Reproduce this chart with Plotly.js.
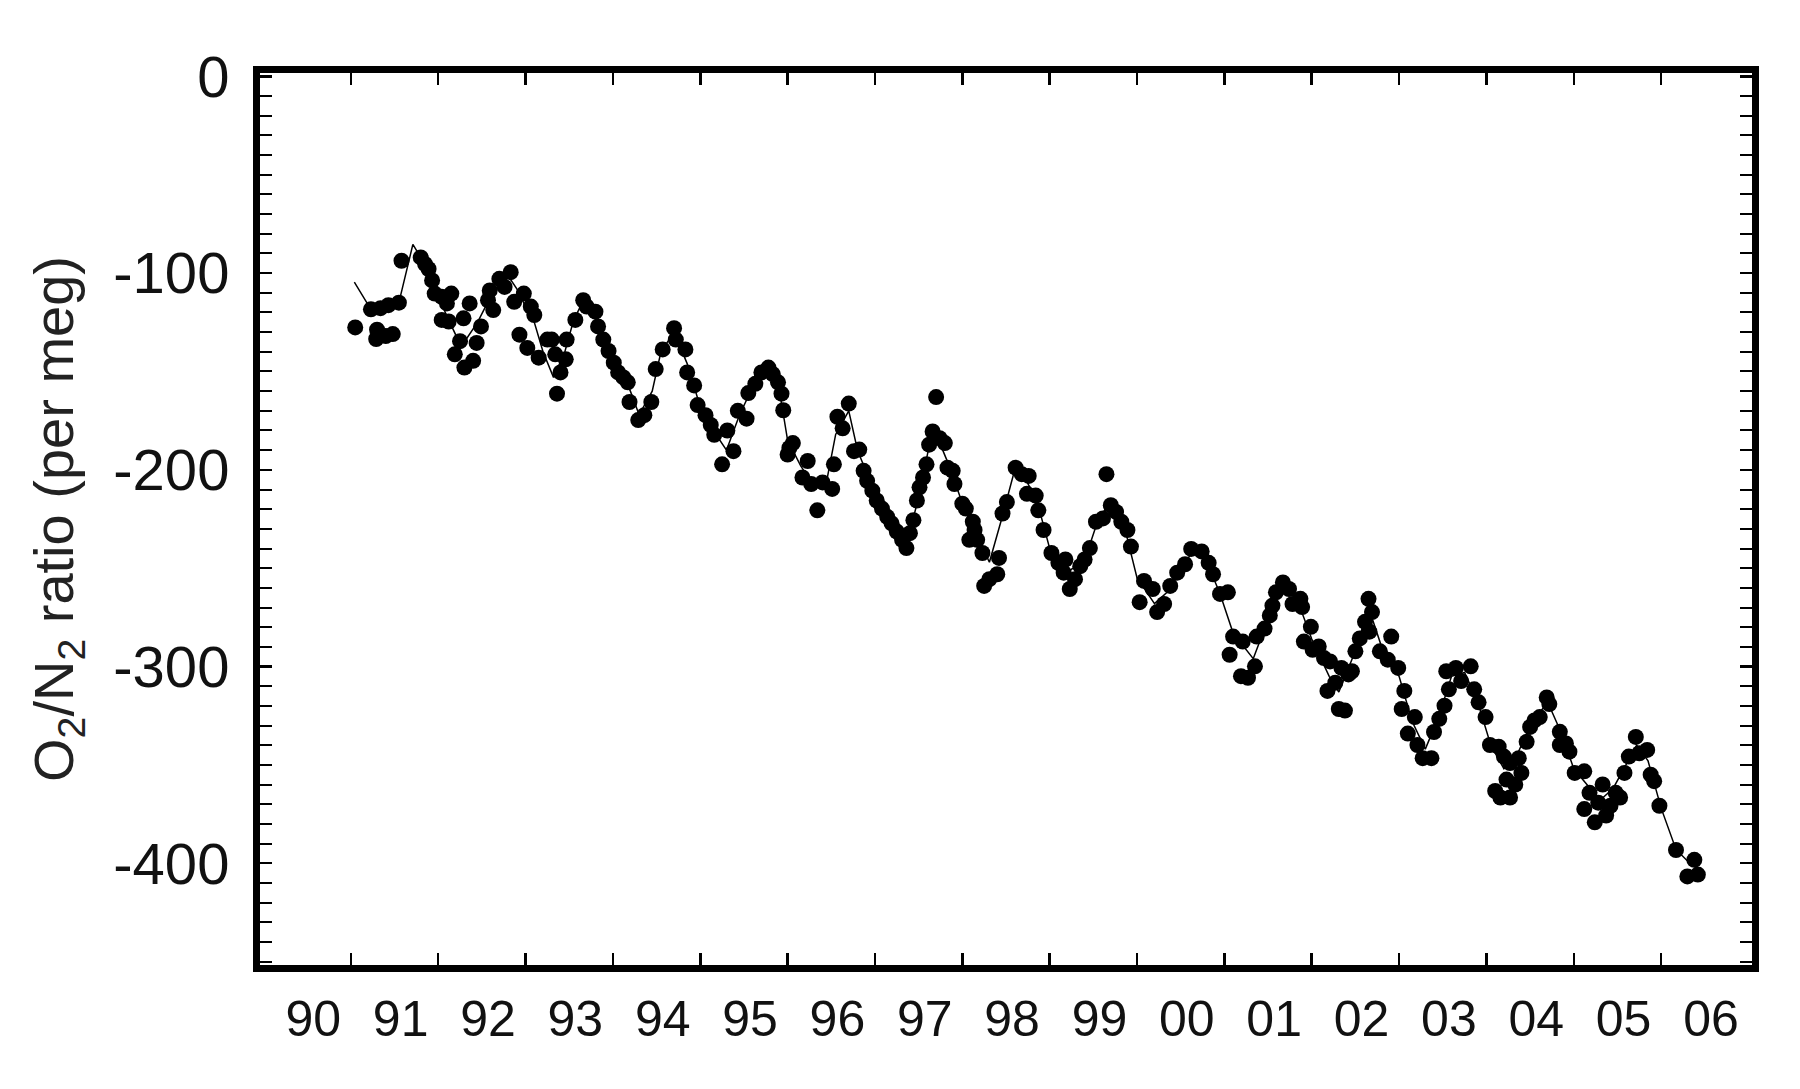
<!DOCTYPE html>
<html>
<head>
<meta charset="utf-8">
<script src="https://cdn.plot.ly/plotly-3.0.1.min.js"></script>
<style>html,body{margin:0;padding:0;background:#fff;}#chart{width:1800px;height:1089px;}</style>
</head>
<body>
<div id="chart"></div>
<script>
// Decimal year of each measured point
const dotYear = [
1991.05,1991.23,1991.34,1991.43,1991.55,1991.30,1991.29,1991.40,1991.48,1991.58,
1991.80,1991.85,1991.89,1991.93,1991.96,1992.04,1992.15,1992.10,1992.04,1992.12,
1992.29,1992.19,1992.25,1992.36,1992.30,1992.40,1992.44,1992.49,1992.57,1992.59,
1992.63,1992.70,1992.83,1992.76,1992.87,1992.98,1993.06,1993.10,1992.93,1993.02,
1993.15,1993.25,1993.34,1993.30,1993.40,1993.36,1993.46,1993.47,1993.57,1993.66,
1993.70,1993.80,1993.83,1993.89,1993.95,1994.01,1994.06,1994.12,1994.17,1994.19,
1994.29,1994.36,1994.44,1994.49,1994.57,1994.70,1994.72,1994.83,1994.85,1994.93,
1994.97,1995.06,1995.12,1995.16,1995.25,1995.31,1995.38,1995.43,1995.53,1995.55,
1995.63,1995.70,1995.78,1995.83,1995.89,1995.93,1995.95,1996.00,1996.02,1996.06,
1996.17,1996.23,1996.27,1996.34,1996.40,1996.51,1996.53,1996.57,1996.63,1996.70,
1996.76,1996.82,1996.87,1996.91,1996.97,1997.02,1997.08,1997.14,1997.19,1997.25,
1997.31,1997.36,1997.40,1997.44,1997.48,1997.51,1997.55,1997.59,1997.62,1997.66,
1997.70,1997.74,1997.80,1997.83,1997.89,1997.91,1998.00,1998.04,1998.12,1998.14,
1998.08,1998.17,1998.23,1998.25,1998.31,1998.40,1998.42,1998.46,1998.51,1998.61,
1998.68,1998.76,1998.74,1998.84,1998.87,1998.93,1999.02,1999.10,1999.18,1999.16,
1999.23,1999.29,1999.35,1999.40,1999.46,1999.53,1999.61,1999.65,1999.70,1999.76,
1999.82,1999.89,1999.93,2000.03,2000.08,2000.18,2000.23,2000.31,2000.38,2000.46,
2000.55,2000.62,2000.74,2000.82,2000.87,2000.95,2001.04,2001.10,2001.06,2001.21,
2001.27,2001.19,2001.35,2001.37,2001.46,2001.52,2001.55,2001.59,2001.67,2001.74,
2001.78,2001.87,2001.89,2001.99,2001.91,2002.01,2002.08,2002.14,2002.21,2002.18,
2002.27,2002.31,2002.38,2002.34,2002.42,2002.46,2002.50,2002.55,2002.61,2002.65,
2002.69,2002.66,2002.91,2002.78,2002.87,2002.99,2003.06,2003.03,2003.18,2003.10,
2003.21,2003.27,2003.37,2003.40,2003.46,2003.52,2003.57,2003.54,2003.65,2003.71,
2003.82,2003.86,2003.91,2003.99,2004.04,2004.14,2004.20,2004.27,2004.10,2004.16,
2004.27,2004.23,2004.33,2004.40,2004.37,2004.46,2004.50,2004.55,2004.61,2004.69,
2004.72,2004.84,2004.84,2004.91,2004.95,2005.01,2005.12,2005.18,2005.12,2005.33,
2005.28,2005.24,2005.37,2005.42,2005.48,2005.53,2005.58,2005.63,2005.71,2005.75,
2005.84,2005.88,2005.92,2005.98,2006.17,2006.38,2006.30,2006.42
];
// O2/N2 ratio of each measured point (per meg)
const dotValue = [
-127.6,-118.4,-117.8,-116.3,-115.0,-128.8,-133.5,-132.0,-131.0,-93.7,
-92.0,-95.4,-97.9,-103.7,-110.4,-112.0,-110.4,-115.4,-123.8,-124.6,
-123.0,-141.3,-134.6,-115.4,-148.0,-144.6,-135.5,-127.1,-113.8,-108.8,
-118.8,-102.9,-99.5,-107.0,-114.6,-110.4,-117.0,-121.3,-131.3,-138.0,
-143.0,-133.8,-141.3,-133.8,-150.5,-161.3,-143.8,-133.8,-123.8,-113.8,
-117.0,-119.6,-127.1,-133.8,-139.6,-145.5,-150.5,-153.0,-155.5,-165.5,
-174.7,-172.2,-165.5,-148.8,-138.8,-128.0,-133.8,-138.8,-150.5,-157.1,
-167.1,-172.2,-177.2,-182.2,-197.2,-180.0,-190.5,-170.0,-174.0,-161.0,
-156.3,-150.5,-148.0,-151.3,-155.5,-161.3,-169.7,-192.2,-188.9,-186.4,
-203.9,-195.5,-207.2,-220.6,-206.4,-209.7,-197.2,-173.0,-178.9,-166.3,
-190.5,-189.7,-200.5,-205.6,-210.6,-215.6,-219.7,-223.9,-227.2,-231.4,
-235.6,-239.8,-232.2,-225.6,-215.6,-208.9,-203.9,-197.2,-187.2,-180.5,
-163.0,-183.9,-186.4,-198.9,-200.5,-207.2,-217.2,-219.7,-226.4,-230.6,
-235.6,-235.6,-242.3,-259.0,-255.6,-253.1,-244.8,-222.2,-216.4,-198.9,
-202.2,-203.1,-212.2,-213.1,-220.6,-230.6,-242.3,-247.3,-245.6,-252.3,
-260.6,-255.6,-249.0,-245.6,-239.8,-226.4,-224.7,-202.2,-218.0,-221.4,
-226.4,-230.6,-239.0,-267.3,-256.5,-260.6,-272.3,-268.2,-259.0,-252.3,
-248.0,-240.2,-241.5,-247.3,-253.1,-263.1,-262.3,-284.8,-294.0,-287.3,
-305.7,-304.9,-299.9,-284.8,-280.7,-274.0,-269.0,-262.3,-257.3,-260.6,
-268.2,-265.6,-269.8,-279.8,-287.3,-291.5,-289.8,-295.7,-297.4,-312.4,
-308.2,-321.6,-322.4,-300.7,-304.0,-302.4,-292.3,-285.7,-277.3,-265.6,
-272.3,-282.3,-284.8,-292.3,-296.5,-300.7,-312.4,-321.6,-325.7,-334.1,
-339.9,-346.6,-346.6,-333.3,-326.6,-319.9,-311.6,-302.4,-300.7,-307.4,
-299.9,-311.6,-318.2,-325.7,-339.9,-340.8,-345.8,-349.1,-363.3,-366.6,
-366.6,-357.5,-360.0,-354.1,-346.6,-338.3,-330.7,-327.4,-325.7,-315.7,
-319.1,-333.2,-339.9,-339.1,-343.3,-354.1,-353.3,-364.2,-372.5,-360.0,
-369.2,-379.2,-375.8,-370.8,-364.2,-366.6,-354.1,-345.8,-335.8,-344.1,
-342.4,-355.0,-358.3,-370.8,-393.3,-398.3,-406.7,-405.8
];
// Thin connecting curve
const lineYear = [
1991.04,1991.21,1991.30,1991.45,1991.55,1991.71,1991.80,1991.90,1992.00,1992.10,
1992.25,1992.33,1992.45,1992.60,1992.78,1992.90,1993.00,1993.10,1993.20,1993.32,
1993.45,1993.55,1993.66,1993.80,1993.95,1994.10,1994.20,1994.30,1994.45,1994.55,
1994.70,1994.85,1995.00,1995.15,1995.30,1995.45,1995.60,1995.78,1995.90,1996.00,
1996.15,1996.30,1996.45,1996.55,1996.70,1996.80,1997.00,1997.20,1997.36,1997.50,
1997.62,1997.72,1997.85,1998.00,1998.15,1998.31,1998.45,1998.60,1998.70,1998.85,
1999.00,1999.20,1999.40,1999.55,1999.65,1999.85,2000.00,2000.20,2000.35,2000.50,
2000.65,2000.80,2000.95,2001.10,2001.33,2001.45,2001.60,2001.70,2001.85,2002.00,
2002.20,2002.31,2002.50,2002.65,2002.80,2003.00,2003.15,2003.30,2003.45,2003.60,
2003.75,2003.90,2004.05,2004.20,2004.35,2004.50,2004.70,2004.85,2005.00,2005.15,
2005.30,2005.45,2005.60,2005.72,2005.85,2006.00,2006.17,2006.35
];
const lineValue = [
-104.6,-117,-121,-118,-115,-85.4,-92,-100,-111,-122,
-136,-133,-125,-112,-100,-108,-117,-125,-140,-153,
-140,-124,-114,-120,-138,-151,-160,-172,-160,-140,
-130,-146,-168,-180,-190,-172,-158,-148,-158,-185,
-198,-208,-205,-182,-170,-190,-212,-228,-238,-214,
-188,-184,-198,-217,-232,-247,-225,-200,-203,-215,
-240,-252,-246,-226,-219,-228,-255,-268,-262,-250,
-241,-247,-263,-283,-296,-282,-263,-258,-268,-286,
-305,-313,-292,-270,-290,-305,-328,-342,-326,-305,
-303,-318,-340,-352,-345,-330,-318,-333,-352,-360,
-368,-362,-350,-340,-348,-372,-393,-401
];
const yearTicks = [1991,1992,1993,1994,1995,1996,1997,1998,1999,2000,2001,2002,2003,2004,2005,2006];
const yearLabelPos = [1990.57,1991.57,1992.57,1993.57,1994.57,1995.57,1996.57,1997.57,1998.57,1999.57,2000.57,2001.57,2002.57,2003.57,2004.57,2005.57,2006.57];
const yearLabels = ['90','91','92','93','94','95','96','97','98','99','00','01','02','03','04','05','06'];
const yTickVals = [0,-100,-200,-300,-400];
const yTickText = ['0','-100','-200','-300','-400'];

const FONT = 'Liberation Sans, Arial, Helvetica, sans-serif';
const traces = [
  {x: lineYear, y: lineValue, type: 'scatter', mode: 'lines',
   line: {color: '#000', width: 1.5}, hoverinfo: 'skip', showlegend: false},
  {x: dotYear, y: dotValue, type: 'scatter', mode: 'markers',
   marker: {color: '#000', size: 16}, showlegend: false},
  {x: [yearLabelPos[0]], y: [null], xaxis: 'x2', yaxis: 'y', type: 'scatter', mode: 'markers', showlegend: false, hoverinfo: 'skip'}
];
const xr = [1989.96, 2007.04];
const layout = {
  width: 1800, height: 1089,
  paper_bgcolor: '#fff', plot_bgcolor: '#fff',
  margin: {l: 260, r: 48, t: 73, b: 124},
  showlegend: false,
  font: {family: FONT, color: '#000'},
  xaxis: {
    range: xr, tickmode: 'array', tickvals: yearTicks, showticklabels: false,
    ticks: 'inside', ticklen: 12, tickwidth: 2.5, tickcolor: '#000',
    showline: true, linewidth: 7, linecolor: '#000', mirror: 'allticks',
    showgrid: false, zeroline: false
  },
  xaxis2: {
    overlaying: 'x', anchor: 'y', side: 'bottom', range: xr,
    tickmode: 'array', tickvals: yearLabelPos, ticktext: yearLabels,
    ticks: '', showline: false, showgrid: false, zeroline: false,
    ticklabelstandoff: 20,
    tickfont: {family: FONT, size: 50, color: '#111'}
  },
  yaxis: {
    range: [-451.75, 1.75], tickmode: 'array', tickvals: yTickVals, ticktext: yTickText,
    ticks: 'inside', ticklen: 12, tickwidth: 2.5, tickcolor: '#000',
    minor: {dtick: 10, tick0: 0, ticks: 'inside', ticklen: 5, tickwidth: 2, tickcolor: '#000', showgrid: false},
    showline: true, linewidth: 7, linecolor: '#000', mirror: 'allticks',
    showgrid: false, zeroline: false,
    ticklabelstandoff: 12,
    tickfont: {family: FONT, size: 58, color: '#111'},
    title: {text: 'O<sub>2</sub>/N<sub>2</sub> ratio (per meg)', font: {family: FONT, size: 56, color: '#222'}, standoff: 24}
  }
};
Plotly.newPlot('chart', traces, layout, {staticPlot: true, displayModeBar: false});
</script>
</body>
</html>
